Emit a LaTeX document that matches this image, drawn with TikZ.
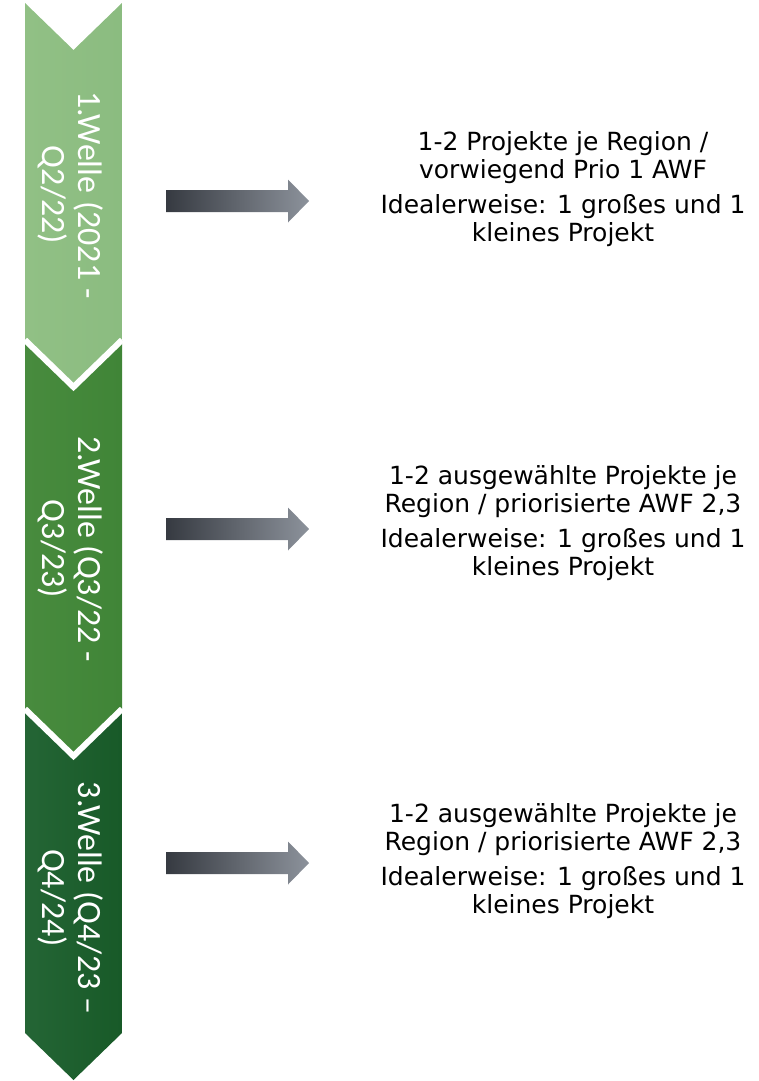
\documentclass[tikz,border=0pt]{standalone}
\usepackage{fontspec}
\setmainfont{DejaVu Sans}
\newfontfamily\wavefont{Carlito}
\usetikzlibrary{calc}

\begin{document}
\begin{tikzpicture}[x=1pt,y=-1pt]

% =========================
% Color Definitions
% =========================
\definecolor{waveA}{HTML}{91C085}
\definecolor{waveAr}{HTML}{8BBC80}
\definecolor{waveB}{HTML}{488B3E}
\definecolor{waveBr}{HTML}{408537}
\definecolor{waveC}{HTML}{246535}
\definecolor{waveCr}{HTML}{185A28}
\definecolor{arrowL}{HTML}{363A41}
\definecolor{arrowR}{HTML}{8C929B}

% =========================
% Canvas
% =========================
\useasboundingbox (0,0) rectangle (759,1081);

% =========================
% Chevron Geometry
% =========================
\def\xL{25}    % left edge of the chevron band
\def\xR{122}   % right edge
\def\xC{73.5}  % middle (notch and tip)
\def\D{47}     % depth of notch / tip

% =========================
% Styles
% =========================
\tikzset{
    wavelabel/.style={
        rotate=-90,
        align=center,
        text=white,
        inner sep=0pt,
        font=\wavefont\fontsize{34}{36}\selectfont
    },
    infotext/.style={
        align=center,
        inner sep=0pt,
        text=black,
        font=\fontsize{25}{28}\selectfont
    },
    notchline/.style={
        white,
        line width=6pt
    },
    arrowshade/.style={
        left color=arrowL,
        right color=arrowR
    }
}

% =========================
% Chevrons (top to bottom)
% =========================
\shade[left color=waveA, right color=waveAr]
    (\xL,3) -- (\xC,3+\D) -- (\xR,3) -- (\xR,340) -- (\xC,340+\D) -- (\xL,340) -- cycle;

\shade[left color=waveB, right color=waveBr]
    (\xL,340) -- (\xC,340+\D) -- (\xR,340) -- (\xR,709) -- (\xC,709+\D) -- (\xL,709) -- cycle;
\draw[notchline] (\xL,340) -- (\xC,340+\D) -- (\xR,340);

\shade[left color=waveC, right color=waveCr]
    (\xL,709) -- (\xC,709+\D) -- (\xR,709) -- (\xR,1033) -- (\xC,1033+\D) -- (\xL,1033) -- cycle;
\draw[notchline] (\xL,709) -- (\xC,709+\D) -- (\xR,709);

% Chevron labels
\node[wavelabel] (lbl1) at (71,195) {1.Welle (2021 -\\Q2/22)};
\node[wavelabel] (lbl2) at (71,549) {2.Welle (Q3/22 -\\Q3/23)};
\node[wavelabel] (lbl3) at (71,898) {3.Welle (Q4/23 –\\Q4/24)};

% =========================
% Block Arrows
% =========================
\coordinate (arr1) at (166,201);
\coordinate (arr2) at (166,529);
\coordinate (arr3) at (166,863);

\shade[arrowshade] (arr1) ++(0,-11) -- ++(122,0) -- ++(0,-10.5) -- ++(21,21.5)
    -- ++(-21,21.5) -- ++(0,-10.5) -- ++(-122,0) -- cycle;
\shade[arrowshade] (arr2) ++(0,-11) -- ++(122,0) -- ++(0,-10.5) -- ++(21,21.5)
    -- ++(-21,21.5) -- ++(0,-10.5) -- ++(-122,0) -- cycle;
\shade[arrowshade] (arr3) ++(0,-11) -- ++(122,0) -- ++(0,-10.5) -- ++(21,21.5)
    -- ++(-21,21.5) -- ++(0,-10.5) -- ++(-122,0) -- cycle;

% =========================
% Info Texts
% =========================
\node[infotext] (info1) at (563,189) {1-2 Projekte je Region /\\vorwiegend Prio 1 AWF\\[7pt]Idealerweise: 1 großes und 1\\kleines Projekt};
\node[infotext] (info2) at (563,523) {1-2 ausgewählte Projekte je\\Region / priorisierte AWF 2,3\\[7pt]Idealerweise: 1 großes und 1\\kleines Projekt};
\node[infotext] (info3) at (563,861) {1-2 ausgewählte Projekte je\\Region / priorisierte AWF 2,3\\[7pt]Idealerweise: 1 großes und 1\\kleines Projekt};

\end{tikzpicture}
\end{document}
